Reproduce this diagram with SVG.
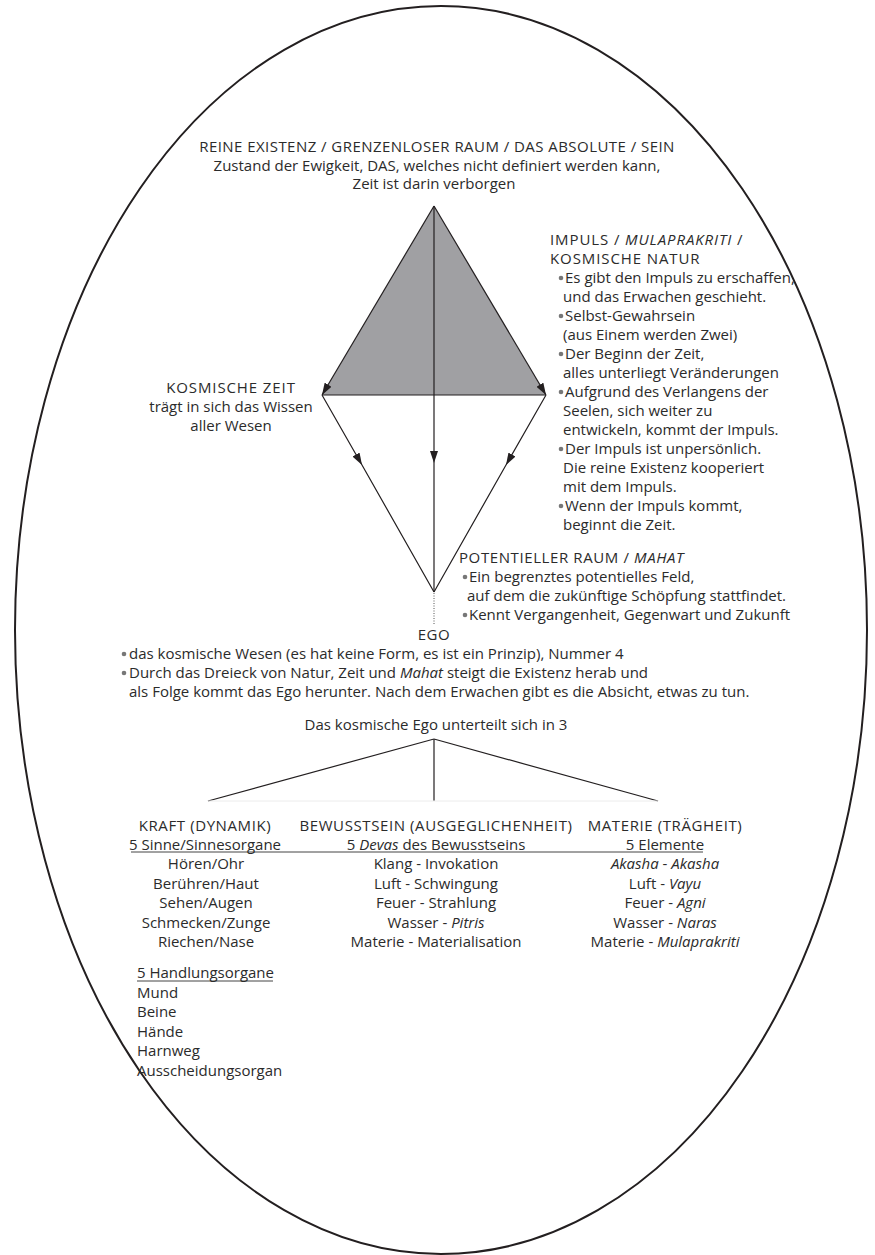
<svg xmlns="http://www.w3.org/2000/svg" width="875" height="1255" viewBox="0 0 875 1255">
<style>
text{font-family:"Open Sans","Liberation Sans",sans-serif;font-size:15px;fill:#2b2b2b}
.c{text-anchor:middle}
.i{font-style:italic}
.t{letter-spacing:0.45px}
.h{letter-spacing:0.6px}
.k{letter-spacing:0.9px}
.ln{stroke:#231f20;stroke-width:1.2;fill:none}
.bl{fill:#777}
</style>
<defs>
<marker id="ah" viewBox="0 0 12 8" refX="12" refY="4" markerWidth="12" markerHeight="8" markerUnits="userSpaceOnUse" orient="auto"><path d="M0,0 L12,4 L0,8 z" fill="#231f20"/></marker>
</defs>
<rect width="875" height="1255" fill="#fff"/>
<g id="frame"><ellipse cx="441" cy="630" rx="426" ry="624" fill="none" stroke="#231f20" stroke-width="2"/></g>

<g id="triangle">
<polygon points="434,206 322,395 546,395" fill="#a0a0a3"/>
</g>

<g id="connectors">
<line class="ln" x1="322" y1="395" x2="546" y2="395"/>
<line class="ln" x1="434" y1="206" x2="322" y2="395" marker-end="url(#ah)"/>
<line class="ln" x1="434" y1="206" x2="546" y2="395" marker-end="url(#ah)"/>
<path class="ln" d="M434,206 L434,463 L434,592" stroke="#444" marker-mid="url(#ah)"/>
<path class="ln" d="M322,395 L362,465 L434,592" marker-mid="url(#ah)"/>
<path class="ln" d="M546,395 L506,465 L434,592" marker-mid="url(#ah)"/>
<line x1="434" y1="593" x2="434" y2="624" stroke="#555" stroke-width="1" stroke-dasharray="1,1.5"/>
<line class="ln" x1="434" y1="739" x2="208" y2="801"/>
<line class="ln" x1="434" y1="739" x2="658" y2="801"/>
<line class="ln" x1="434" y1="739" x2="434" y2="801" stroke="#444"/>
<line x1="208" y1="801" x2="658" y2="801" stroke="#ececec" stroke-width="1"/>
<line x1="131" y1="852" x2="703" y2="852" stroke="#444" stroke-width="1"/>
<line x1="137" y1="981" x2="273" y2="981" stroke="#444" stroke-width="1"/>
</g>

<g id="reine-existenz">
<text class="c t" x="437" y="152">REINE EXISTENZ / GRENZENLOSER RAUM / DAS ABSOLUTE / SEIN</text>
<text class="c" x="437" y="170.5">Zustand der Ewigkeit, DAS, welches nicht definiert werden kann,</text>
<text class="c" x="434" y="189">Zeit ist darin verborgen</text>
</g>

<g id="kosmische-zeit">
<text class="c k" x="231" y="393">KOSMISCHE ZEIT</text>
<text class="c" x="231" y="412">trägt in sich das Wissen</text>
<text class="c" x="231" y="431">aller Wesen</text>
</g>

<g id="impuls">
<text class="k" x="550" y="245">IMPULS / <tspan class="i">MULAPRAKRITI</tspan> /</text>
<text class="k" x="550" y="264">KOSMISCHE NATUR</text>
<circle class="bl" cx="561" cy="278" r="2.3"/>
<text x="565" y="283">Es gibt den Impuls zu erschaffen,</text>
<text x="563" y="302">und das Erwachen geschieht.</text>
<circle class="bl" cx="561" cy="316" r="2.3"/>
<text x="565" y="321">Selbst-Gewahrsein</text>
<text x="563" y="340">(aus Einem werden Zwei)</text>
<circle class="bl" cx="561" cy="354" r="2.3"/>
<text x="565" y="359">Der Beginn der Zeit,</text>
<text x="563" y="378">alles unterliegt Veränderungen</text>
<circle class="bl" cx="561" cy="392" r="2.3"/>
<text x="565" y="397">Aufgrund des Verlangens der</text>
<text x="563" y="416">Seelen, sich weiter zu</text>
<text x="563" y="435">entwickeln, kommt der Impuls.</text>
<circle class="bl" cx="561" cy="449" r="2.3"/>
<text x="565" y="454">Der Impuls ist unpersönlich.</text>
<text x="563" y="473">Die reine Existenz kooperiert</text>
<text x="563" y="492">mit dem Impuls.</text>
<circle class="bl" cx="561" cy="506" r="2.3"/>
<text x="565" y="511">Wenn der Impuls kommt,</text>
<text x="563" y="530">beginnt die Zeit.</text>
</g>

<g id="potentieller-raum">
<text class="h" x="459" y="563">POTENTIELLER RAUM / <tspan class="i">MAHAT</tspan></text>
<circle class="bl" cx="465" cy="577" r="2.3"/>
<text x="469" y="582">Ein begrenztes potentielles Feld,</text>
<text x="467" y="601">auf dem die zukünftige Schöpfung stattfindet.</text>
<circle class="bl" cx="465" cy="615" r="2.3"/>
<text x="469" y="620">Kennt Vergangenheit, Gegenwart und Zukunft</text>
</g>

<g id="ego">
<text class="c h" x="434" y="640">EGO</text>
<circle class="bl" cx="124" cy="654" r="2.3"/>
<text x="129" y="659">das kosmische Wesen (es hat keine Form, es ist ein Prinzip), Nummer 4</text>
<circle class="bl" cx="124" cy="673" r="2.3"/>
<text x="129" y="678">Durch das Dreieck von Natur, Zeit und <tspan class="i">Mahat</tspan> steigt die Existenz herab und</text>
<text x="129" y="697">als Folge kommt das Ego herunter. Nach dem Erwachen gibt es die Absicht, etwas zu tun.</text>
<text class="c" x="436" y="730">Das kosmische Ego unterteilt sich in 3</text>
</g>

<g id="kraft">
<text class="c h" x="205" y="830.5">KRAFT (DYNAMIK)</text>
<text class="c" x="205" y="849.5">5 Sinne/Sinnesorgane</text>
<text class="c" x="206" y="869">Hören/Ohr</text>
<text class="c" x="206" y="888.5">Berühren/Haut</text>
<text class="c" x="206" y="908">Sehen/Augen</text>
<text class="c" x="206" y="927.5">Schmecken/Zunge</text>
<text class="c" x="206" y="947">Riechen/Nase</text>
<text x="137" y="978">5 Handlungsorgane</text>
<text x="137" y="997.5">Mund</text>
<text x="137" y="1017">Beine</text>
<text x="137" y="1036.5">Hände</text>
<text x="137" y="1056">Harnweg</text>
<text x="137" y="1075.5">Ausscheidungsorgan</text>
</g>

<g id="bewusstsein">
<text class="c h" x="436" y="830.5">BEWUSSTSEIN (AUSGEGLICHENHEIT)</text>
<text class="c" x="436" y="849.5">5 <tspan class="i">Devas</tspan> des Bewusstseins</text>
<text class="c" x="436" y="869">Klang - Invokation</text>
<text class="c" x="436" y="888.5">Luft - Schwingung</text>
<text class="c" x="436" y="908">Feuer - Strahlung</text>
<text class="c" x="436" y="927.5">Wasser - <tspan class="i">Pitris</tspan></text>
<text class="c" x="436" y="947">Materie - Materialisation</text>
</g>

<g id="materie">
<text class="c h" x="665" y="830.5">MATERIE (TRÄGHEIT)</text>
<text class="c" x="665" y="849.5">5 Elemente</text>
<text class="c" x="665" y="869"><tspan class="i">Akasha</tspan> - <tspan class="i">Akasha</tspan></text>
<text class="c" x="665" y="888.5">Luft - <tspan class="i">Vayu</tspan></text>
<text class="c" x="665" y="908">Feuer - <tspan class="i">Agni</tspan></text>
<text class="c" x="665" y="927.5">Wasser - <tspan class="i">Naras</tspan></text>
<text class="c" x="665" y="947">Materie - <tspan class="i">Mulaprakriti</tspan></text>
</g>
</svg>
